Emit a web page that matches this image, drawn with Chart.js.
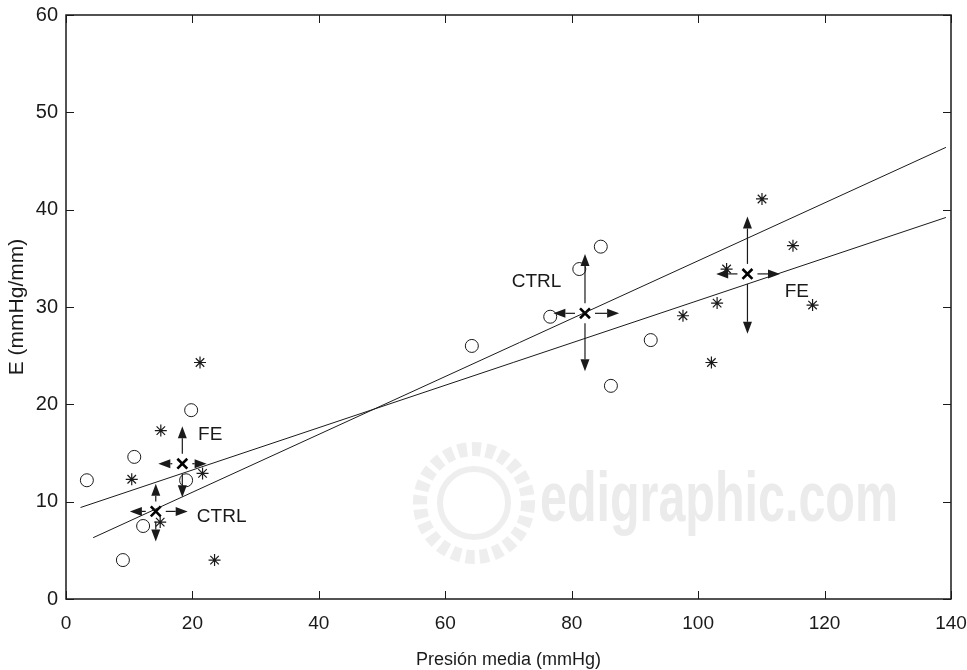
<!DOCTYPE html>
<html>
<head>
<meta charset="utf-8">
<script src="https://cdn.jsdelivr.net/npm/chart.js@4.4.1/dist/chart.umd.min.js"></script>
<style>
  body { margin: 0; background: #fff; }
  canvas { display: block; }
</style>
</head>
<body>
<canvas id="scatter-chart" width="967" height="670"></canvas>
<script>
// CTRL group (open circles)
const ctrlX = [3.3, 9.0, 10.8, 12.2, 19.0, 19.8, 64.2, 76.6, 81.2, 84.6, 86.2, 92.5];
const ctrlY = [12.2, 4.0, 14.6, 7.5, 12.2, 19.4, 26.0, 29.0, 33.9, 36.2, 21.9, 26.6];

// FE group (asterisks)
const feX = [10.4, 14.9, 15.0, 21.2, 21.6, 23.5, 97.6, 102.1, 103.0, 104.5, 110.1, 115.0, 118.1];
const feY = [12.3, 7.9, 17.3, 24.3, 12.9, 4.0, 29.1, 24.3, 30.4, 33.9, 41.1, 36.3, 30.2];

// regression lines (end points)
const ctrlLineX = [4.3, 139.2];
const ctrlLineY = [6.3, 46.4];
const feLineX = [2.3, 139.2];
const feLineY = [9.4, 39.2];

// group means: CTRL low, CTRL high, FE low, FE high
const meanX = [14.2, 82.1, 18.4, 107.8];
const meanY = [9.0, 29.35, 13.9, 33.4];
const errLeft = [4.1, 5.0, 3.8, 4.95];
const errRight = [5.05, 5.4, 3.85, 5.15];
const errUp = [2.85, 6.1, 3.85, 5.9];
const errDown = [3.1, 5.95, 3.45, 6.15];

// text notes
const noteText = ['CTRL', 'CTRL', 'FE', 'FE'];
const noteX = [20.7, 70.5, 20.9, 113.7];
const noteY = [8.45, 32.6, 16.9, 31.6];

const xTicks = [0, 20, 40, 60, 80, 100, 120, 140];
const yTicks = [0, 10, 20, 30, 40, 50, 60];

const ink = '#1a1a1a';
const toPts = (xs, ys) => xs.map((v, i) => ({x: v, y: ys[i]}));

// watermark behind everything
const watermark = {
  id: 'watermark',
  beforeDatasetsDraw(chart) {
    const ctx = chart.ctx;
    ctx.save();
    ctx.fillStyle = '#ebebeb';
    ctx.strokeStyle = '#eeeeee';
    // logo ring
    ctx.lineWidth = 14;
    ctx.setLineDash([9, 5]);
    ctx.beginPath(); ctx.arc(474, 503, 54, 0, Math.PI * 2); ctx.stroke();
    ctx.setLineDash([]);
    ctx.lineWidth = 6;
    ctx.beginPath(); ctx.arc(474, 503, 34, 0, Math.PI * 2); ctx.stroke();
    ctx.font = 'bold 70px "Liberation Sans", sans-serif';
    ctx.textBaseline = 'alphabetic';
    ctx.fillText('edigraphic.com', 540, 521, 358);
    ctx.restore();
  }
};

// box with inward ticks on every side
const frame = {
  id: 'frame',
  afterDatasetsDraw(chart) {
    const {ctx, chartArea: a, scales: {x, y}} = chart;
    ctx.save();
    ctx.strokeStyle = ink;
    ctx.lineWidth = 1.5;
    ctx.strokeRect(a.left, a.top, a.right - a.left, a.bottom - a.top);
    ctx.lineWidth = 1;
    const len = 8;
    ctx.beginPath();
    xTicks.forEach(v => {
      const px = Math.round(x.getPixelForValue(v)) + 0.5;
      ctx.moveTo(px, a.bottom); ctx.lineTo(px, a.bottom - len);
      ctx.moveTo(px, a.top); ctx.lineTo(px, a.top + len);
    });
    yTicks.forEach(v => {
      const py = Math.round(y.getPixelForValue(v)) + 0.5;
      ctx.moveTo(a.left, py); ctx.lineTo(a.left + len, py);
      ctx.moveTo(a.right, py); ctx.lineTo(a.right - len, py);
    });
    ctx.stroke();
    ctx.restore();
  }
};

// SD arrows around the means + text notes
const arrows = {
  id: 'arrows',
  afterDatasetsDraw(chart) {
    const {ctx, scales: {x, y}} = chart;
    const gap = 10, head = 12, half = 4.5;
    ctx.save();
    ctx.strokeStyle = ink;
    ctx.fillStyle = ink;
    ctx.lineWidth = 1.2;
    meanX.forEach((mx, i) => {
      const cx = x.getPixelForValue(mx);
      const cy = y.getPixelForValue(meanY[i]);
      const tips = [
        [x.getPixelForValue(mx - errLeft[i]), cy, -1, 0],
        [x.getPixelForValue(mx + errRight[i]), cy, 1, 0],
        [cx, y.getPixelForValue(meanY[i] + errUp[i]), 0, -1],
        [cx, y.getPixelForValue(meanY[i] - errDown[i]), 0, 1]
      ];
      tips.forEach(([tx, ty, dx, dy]) => {
        const bx = tx - dx * head, by = ty - dy * head;
        ctx.beginPath();
        ctx.moveTo(cx + dx * gap, cy + dy * gap);
        ctx.lineTo(bx, by);
        ctx.stroke();
        ctx.beginPath();
        ctx.moveTo(tx, ty);
        ctx.lineTo(bx - dy * half, by + dx * half);
        ctx.lineTo(bx + dy * half, by - dx * half);
        ctx.closePath();
        ctx.fill();
      });
    });
    ctx.font = '19px "Liberation Sans", sans-serif';
    ctx.textBaseline = 'middle';
    ctx.textAlign = 'left';
    noteText.forEach((t, i) => {
      ctx.fillText(t, x.getPixelForValue(noteX[i]), y.getPixelForValue(noteY[i]));
    });
    ctx.restore();
  }
};

const ctx = document.getElementById('scatter-chart');

const chart = new Chart(ctx, {
  type: 'scatter',
  data: {
    datasets: [
      {
        label: 'CTRL',
        data: toPts(ctrlX, ctrlY),
        pointStyle: 'circle',
        pointRadius: 6.5,
        borderColor: ink,
        backgroundColor: 'rgba(0,0,0,0)',
        borderWidth: 1
      },
      {
        label: 'FE',
        data: toPts(feX, feY),
        pointStyle: 'star',
        pointRadius: 6,
        borderColor: ink,
        borderWidth: 1.2
      },
      {
        label: 'CTRL fit',
        type: 'line',
        data: toPts(ctrlLineX, ctrlLineY),
        borderColor: ink,
        borderWidth: 1,
        pointRadius: 0,
        fill: false
      },
      {
        label: 'FE fit',
        type: 'line',
        data: toPts(feLineX, feLineY),
        borderColor: ink,
        borderWidth: 1,
        pointRadius: 0,
        fill: false
      },
      {
        label: 'means',
        data: toPts(meanX, meanY),
        pointStyle: 'crossRot',
        pointRadius: 7,
        borderColor: '#000',
        borderWidth: 2.6
      }
    ]
  },
  options: {
    responsive: false,
    animation: false,
    events: [],
    layout: {
      padding: {top: 15, right: 16, left: 0, bottom: 0}
    },
    plugins: {
      legend: {display: false},
      tooltip: {enabled: false}
    },
    scales: {
      x: {
        type: 'linear',
        min: 0,
        max: 140,
        afterFit: s => { s.height = 71; s.paddingLeft = 0; s.paddingRight = 0; },
        afterBuildTicks: s => { s.ticks = xTicks.map(v => ({value: v})); },
        grid: {display: false, drawTicks: false},
        border: {display: false},
        ticks: {
          color: ink,
          padding: 13,
          maxRotation: 0,
          font: {family: '"Liberation Sans", sans-serif', size: 19}
        },
        title: {
          display: true,
          text: 'Presión media (mmHg)',
          color: ink,
          padding: {top: 0, bottom: 0},
          font: {family: '"Liberation Sans", sans-serif', size: 18, lineHeight: 1.1}
        }
      },
      y: {
        type: 'linear',
        min: 0,
        max: 60,
        afterFit: s => { s.width = 66; s.paddingTop = 0; s.paddingBottom = 0; },
        afterBuildTicks: s => { s.ticks = yTicks.map(v => ({value: v})); },
        grid: {display: false, drawTicks: false},
        border: {display: false},
        ticks: {
          color: ink,
          padding: 8,
          font: {family: '"Liberation Sans", sans-serif', size: 20}
        },
        title: {
          display: true,
          text: 'E (mmHg/mm)',
          color: ink,
          padding: {top: 6, bottom: 0},
          font: {family: '"Liberation Sans", sans-serif', size: 21, lineHeight: 1.1}
        }
      }
    }
  },
  plugins: [watermark, frame, arrows]
});
</script>
</body>
</html>
